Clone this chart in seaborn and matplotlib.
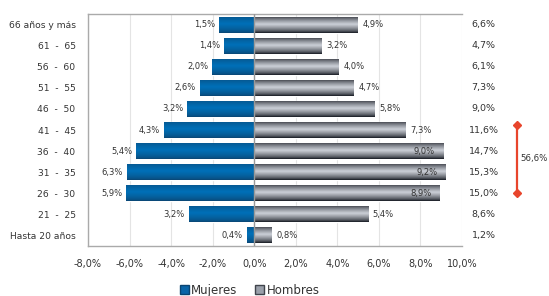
import numpy as np
import pandas as pd
import matplotlib.pyplot as plt
import matplotlib.transforms as mtransforms
from matplotlib.patches import Patch
import seaborn as sns

# age groups, top to bottom
grupos = ['66 años y más', '61  -  65', '56  -  60', '51  -  55', '46  -  50', '41  -  45',
          '36  -  40', '31  -  35', '26  -  30', '21  -  25', 'Hasta 20 años']
# bar lengths (%)
mujeres = [1.68, 1.44, 2.02, 2.6, 3.22, 4.33, 5.68, 6.11, 6.16, 3.13, 0.34]
hombres = [5.0, 3.27, 4.09, 4.81, 5.82, 7.3, 9.1, 9.24, 8.95, 5.49, 0.85]
# printed labels
etiq_mujeres = ['1,5%', '1,4%', '2,0%', '2,6%', '3,2%', '4,3%', '5,4%', '6,3%', '5,9%', '3,2%', '0,4%']
etiq_hombres = ['4,9%', '3,2%', '4,0%', '4,7%', '5,8%', '7,3%', '9,0%', '9,2%', '8,9%', '5,4%', '0,8%']
totales = ['6,6%', '4,7%', '6,1%', '7,3%', '9,0%', '11,6%', '14,7%', '15,3%', '15,0%', '8,6%', '1,2%']
xticks = [-8, -6, -4, -2, 0, 2, 4, 6, 8, 10]
suma_label = '56,6%'

txt = '#333333'
sns.set_style('white')
plt.rcParams['font.family'] = ['DejaVu Sans']

df = pd.DataFrame({
    'grupo': grupos * 2,
    'valor': [-v for v in mujeres] + hombres,
    'sexo': ['Mujeres'] * len(grupos) + ['Hombres'] * len(grupos),
})

fig = plt.figure(figsize=(5.49, 2.96), dpi=100)
ax = fig.add_axes([0.1603, 0.1689, 0.6812, 0.7838])
sns.barplot(data=df, x='valor', y='grupo', hue='sexo', orient='h', dodge=False,
            width=0.76, palette={'Mujeres': '#0a65a8', 'Hombres': '#b8bec8'},
            legend=False, ax=ax, zorder=2)

# gradient fills, clipped to each bar
n = 40
t = np.linspace(0, 1, n)
blue_dark = np.array([0x0b, 0x45, 0x72]) / 255
blue_mid = np.array([0x00, 0x70, 0xb8]) / 255
w = np.clip(1 - np.abs(t - 0.45) / 0.55, 0, 1) ** 0.6
blue = blue_dark[None, :] * (1 - w[:, None]) + blue_mid[None, :] * w[:, None]
g_dark = np.array([0x1e, 0x22, 0x2a]) / 255
g_light = np.array([0xd6, 0xda, 0xe2]) / 255
wg = np.clip(1 - np.abs(t - 0.48) / 0.5, 0, 1) ** 0.7
stripes = 1 - 0.09 * (np.arange(n) % 2)
gray = (g_dark[None, :] * (1 - wg[:, None]) + g_light[None, :] * wg[:, None]) * stripes[:, None]

for p in ax.patches:
    x0, y0 = p.get_x(), p.get_y()
    x1, y1 = x0 + p.get_width(), y0 + p.get_height()
    grad = blue if p.get_width() < 0 else gray
    im = ax.imshow(grad[:, None, :], extent=(min(x0, x1), max(x0, x1), max(y0, y1), min(y0, y1)),
                   origin='upper', aspect='auto', zorder=3, interpolation='bilinear')
    im.set_clip_path(p)

ax.set_xlim(-8, 10)
ax.set_ylim(len(grupos) - 0.5, -0.5)
ax.set_xticks(xticks)
ax.set_xticklabels([f'{v:.1f}%'.replace('.', ',') for v in xticks], fontsize=7, color=txt)
ax.tick_params(axis='x', length=0, pad=9)
ax.tick_params(axis='y', length=0, pad=9, labelsize=6.6, labelcolor=txt)
ax.set_xlabel('')
ax.set_ylabel('')
ax.grid(axis='x', color='#e4e4e4', lw=0.8, zorder=0)
ax.axvline(0, color='#999999', lw=1, zorder=4)
for s in ['left', 'top', 'bottom']:
    ax.spines[s].set_color('#aaaaaa')
    ax.spines[s].set_linewidth(1)
ax.spines['right'].set_visible(False)

# data labels
for i, (m, h) in enumerate(zip(mujeres, hombres)):
    ax.annotate(etiq_mujeres[i], (-m, i), xytext=(-3, 0), textcoords='offset points',
                ha='right', va='center', fontsize=6, color=txt, zorder=5)
    if h >= 8.5:
        ax.annotate(etiq_hombres[i], (h, i), xytext=(-6, 0), textcoords='offset points',
                    ha='right', va='center', fontsize=6, color=txt, zorder=5)
    else:
        ax.annotate(etiq_hombres[i], (h, i), xytext=(3, 0), textcoords='offset points',
                    ha='left', va='center', fontsize=6, color=txt, zorder=5)

# totals column
trans = mtransforms.blended_transform_factory(ax.transAxes, ax.transData)
for i, tot in enumerate(totales):
    ax.text(1.058, i, tot, transform=trans, ha='center', va='center',
            fontsize=6.8, color=txt, clip_on=False)

# red bracket for 26-45
ax.plot([1.147, 1.147], [4.75, 8.0], transform=trans, color='#e8452c', lw=1.6,
        marker='D', markersize=4.5, clip_on=False, zorder=6)
ax.text(1.156, 6.37, suma_label, transform=trans, ha='left', va='center',
        fontsize=6.2, color=txt, clip_on=False)

handles = [Patch(facecolor='#0a65a8', edgecolor='#0b4572', label='Mujeres'),
           Patch(facecolor='#9aa0aa', edgecolor='#40444c', label='Hombres')]
fig.legend(handles=handles, loc='center', bbox_to_anchor=(0.455, 0.02), ncol=2,
           frameon=False, fontsize=8.5, handlelength=0.75, handleheight=0.75,
           handletextpad=0.2, columnspacing=1.5, labelcolor=txt)

fig.savefig('out.png', dpi=100)
